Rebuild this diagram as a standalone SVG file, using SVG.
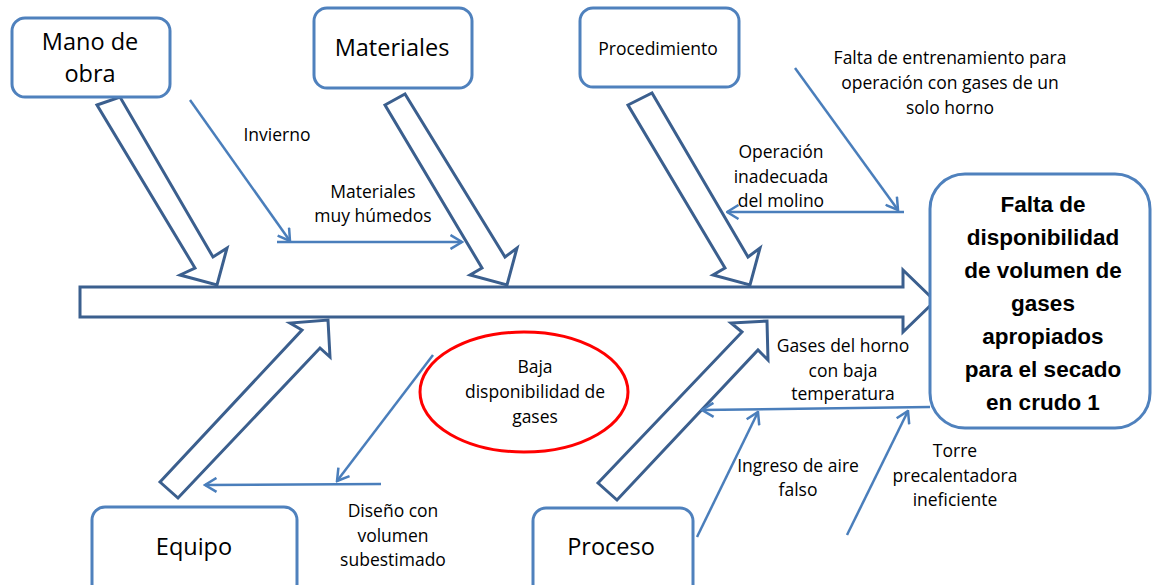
<svg xmlns="http://www.w3.org/2000/svg" width="1157" height="585" viewBox="0 0 1157 585">
<style>
.box{fill:#fff;stroke:#4f81bd;stroke-width:3}
.blk{fill:#fff;stroke:#3b5f8e;stroke-width:3;stroke-linejoin:miter}
.ln{fill:none;stroke:#4a7ebb;stroke-width:2.5}
.t{font-family:"Open Sans","Liberation Sans",sans-serif;fill:#000;text-anchor:middle}
.s{font-size:17.5px}
.m{font-size:23.5px}
.b{font-family:"Liberation Sans",Arial,sans-serif;font-weight:bold;font-size:22.5px;fill:#000;text-anchor:middle}
</style>
<defs>
<marker id="ah" viewBox="0 0 14 16" refX="12.5" refY="8" markerWidth="14" markerHeight="16" markerUnits="userSpaceOnUse" orient="auto">
<path d="M1,1 L12.5,8 L1,15" fill="none" stroke="#4a7ebb" stroke-width="2.5"/>
</marker>
</defs>
<rect width="1157" height="585" fill="#fff"/>

<g id="connectors">
<polygon id="spine" class="blk" points="80,287 903,287 903,270 935,301 903,332 903,317 80,317"/>
<polygon class="blk" points="97,105 120,97 213,257 227,248 217,285 180,275 195,268"/>
<polygon class="blk" points="385,105 405,94 505,257 517,248 507,285 470,275 482,268"/>
<polygon class="blk" points="628,105 652,93 748,257 760,248 750,285 713,275 725,268"/>
<polygon class="blk" points="160,482 302,330 290,323 328,320 330,357 320,348 178,498"/>
<polygon class="blk" points="598,483 742,332 731,323 767,321 768,360 758,350 617,500"/>

<line class="ln" x1="190" y1="100" x2="290" y2="241" marker-end="url(#ah)"/>
<line class="ln" x1="277" y1="242" x2="462" y2="242" marker-end="url(#ah)"/>
<line class="ln" x1="795" y1="68" x2="898" y2="210" marker-end="url(#ah)"/>
<line class="ln" x1="904" y1="212" x2="727" y2="212" marker-end="url(#ah)"/>
<line class="ln" x1="433" y1="355" x2="337" y2="481" marker-end="url(#ah)"/>
<line class="ln" x1="381" y1="484" x2="205" y2="485" marker-end="url(#ah)"/>
<line class="ln" x1="930" y1="407" x2="702" y2="410" marker-end="url(#ah)"/>
<line class="ln" x1="697" y1="537" x2="758" y2="412" marker-end="url(#ah)"/>
<line class="ln" x1="847" y1="535" x2="908" y2="411" marker-end="url(#ah)"/>
</g>

<g id="mano-de-obra">
<rect class="box" x="12" y="18" width="158" height="79" rx="13"/>
<text class="t m" x="90" y="50">Mano de</text>
<text class="t m" x="90" y="82">obra</text>
</g>
<g id="materiales">
<rect class="box" x="314" y="8" width="158" height="80" rx="13"/>
<text class="t m" x="392" y="56">Materiales</text>
</g>
<g id="procedimiento">
<rect class="box" x="580" y="8" width="159" height="79" rx="13"/>
<text class="t s" x="658" y="55">Procedimiento</text>
</g>
<g id="equipo">
<rect class="box" x="92" y="507" width="205" height="90" rx="13"/>
<text class="t m" x="194" y="555">Equipo</text>
</g>
<g id="proceso">
<rect class="box" x="533" y="508" width="160" height="90" rx="13"/>
<text class="t m" x="611" y="555">Proceso</text>
</g>
<g id="efecto">
<rect class="box" x="930" y="174" width="220" height="254" rx="35"/>
<text class="b" x="1043" y="212">Falta de</text>
<text class="b" x="1043" y="245">disponibilidad</text>
<text class="b" x="1043" y="278">de volumen de</text>
<text class="b" x="1043" y="311">gases</text>
<text class="b" x="1043" y="344">apropiados</text>
<text class="b" x="1043" y="377">para el secado</text>
<text class="b" x="1043" y="410">en crudo 1</text>
</g>
<g id="baja-disponibilidad">
<ellipse cx="524" cy="392" rx="104" ry="60" fill="#fff" stroke="#ff0000" stroke-width="3"/>
<text class="t s" x="535" y="373">Baja</text>
<text class="t s" x="535" y="398">disponibilidad de</text>
<text class="t s" x="535" y="423">gases</text>
</g>

<g id="labels">
<text class="t s" x="277" y="141">Invierno</text>
<text class="t s" x="373" y="198">Materiales</text>
<text class="t s" x="373" y="222">muy húmedos</text>
<text class="t s" x="781" y="158">Operación</text>
<text class="t s" x="781" y="183">inadecuada</text>
<text class="t s" x="781" y="207">del molino</text>
<text class="t s" x="950" y="64">Falta de entrenamiento para</text>
<text class="t s" x="950" y="89">operación con gases de un</text>
<text class="t s" x="950" y="114">solo horno</text>
<text class="t s" x="393" y="517">Diseño con</text>
<text class="t s" x="393" y="542">volumen</text>
<text class="t s" x="393" y="566">subestimado</text>
<text class="t s" x="843" y="352">Gases del horno</text>
<text class="t s" x="843" y="377">con baja</text>
<text class="t s" x="843" y="400">temperatura</text>
<text class="t s" x="798" y="472">Ingreso de aire</text>
<text class="t s" x="798" y="496">falso</text>
<text class="t s" x="955" y="457">Torre</text>
<text class="t s" x="955" y="482">precalentadora</text>
<text class="t s" x="955" y="506">ineficiente</text>
</g>
</svg>
